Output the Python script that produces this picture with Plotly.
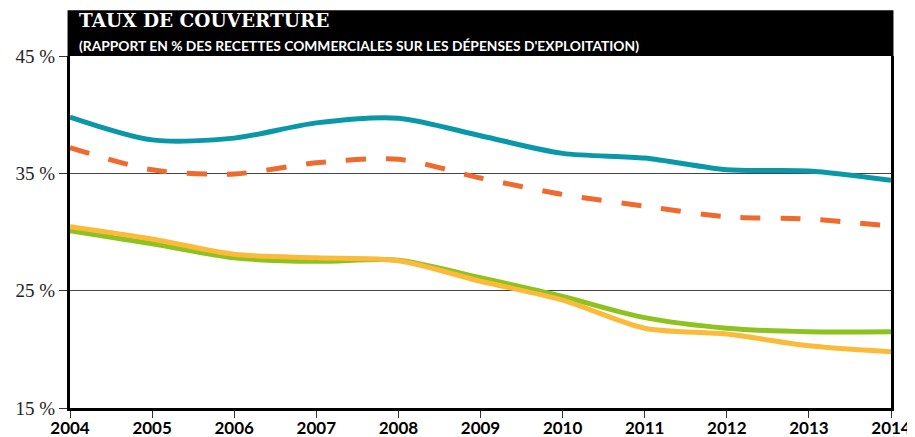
import plotly.graph_objects as go

years = list(range(2004, 2015))
teal = [39.8, 37.85, 38.0, 39.3, 39.7, 38.2, 36.7, 36.3, 35.3, 35.2, 34.4]
orange = [37.2, 35.3, 34.95, 35.9, 36.2, 34.6, 33.2, 32.2, 31.3, 31.1, 30.5]
yellow = [30.45, 29.4, 28.1, 27.8, 27.55, 25.8, 24.2, 21.8, 21.3, 20.3, 19.8]
green = [30.1, 29.0, 27.8, 27.5, 27.6, 26.1, 24.5, 22.7, 21.8, 21.5, 21.5]
ytick_vals = [15, 25, 35, 45]
ytick_text = ["15 %", "25 %", "35 %", "45 %"]
title = "TAUX DE COUVERTURE"
subtitle = "(RAPPORT EN % DES RECETTES COMMERCIALES SUR LES DÉPENSES D'EXPLOITATION)"

fig = go.Figure()
fig.add_trace(go.Scatter(x=years, y=green, mode="lines", line=dict(color="#8DC21F", width=5, shape="spline", smoothing=0.8)))
fig.add_trace(go.Scatter(x=years, y=yellow, mode="lines", line=dict(color="#FBBA3A", width=5, shape="spline", smoothing=0.8)))
fig.add_trace(go.Scatter(x=years, y=orange, mode="lines", line=dict(color="#EE6A2F", width=5, shape="spline", smoothing=0.8, dash="20px,20px")))
fig.add_trace(go.Scatter(x=years, y=teal, mode="lines", line=dict(color="#0A98A8", width=5, shape="spline", smoothing=0.8)))

fig.update_layout(
    width=907, height=429,
    margin=dict(l=62, r=24, t=48, b=29),
    paper_bgcolor="white", plot_bgcolor="white",
    showlegend=False,
    xaxis=dict(range=[2004, 2014], tickvals=years, showgrid=False, zeroline=False, automargin=False,
               showline=True, linecolor="black", linewidth=3,
               ticks="outside", ticklen=7, tickcolor="#333", tickwidth=1, ticklabelstandoff=-4,
               tickfont=dict(family="Lato", size=17, color="black", weight="bold")),
    yaxis=dict(range=[15, 45], tickvals=ytick_vals, ticktext=ytick_text, automargin=False,
               showgrid=True, gridcolor="#444", gridwidth=1, zeroline=False,
               showline=True, mirror=True, linecolor="black", linewidth=3,
               ticks="outside", ticklen=8, tickcolor="#333", tickwidth=1,
               tickfont=dict(family="Liberation Serif", size=19, color="#222")),
    shapes=[dict(type="rect", xref="paper", yref="paper", x0=-0.003, x1=1.003, y0=1.0, y1=1.13,
                 fillcolor="black", line=dict(width=0), layer="above")],
    annotations=[
        dict(text="<b>" + title + "</b>", xref="paper", yref="paper", x=0.008, y=1.10, xanchor="left", yanchor="middle",
             showarrow=False, font=dict(family="DejaVu Serif", size=18.5, color="white")),
        dict(text="<b>" + subtitle + "</b>", xref="paper", yref="paper", x=0.008, y=1.031, xanchor="left", yanchor="middle",
             showarrow=False, font=dict(family="Lato", size=13.8, color="white")),
    ],
)
fig.write_html("out.html")
